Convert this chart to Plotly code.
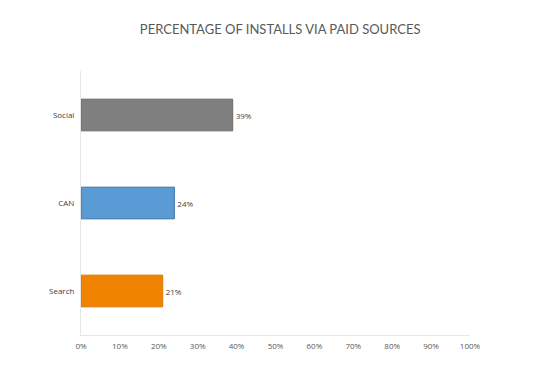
import plotly.graph_objects as go

categories = ["Search", "CAN", "Social"]
values = [21, 24, 39]
colors = ["#f08300", "#5b9bd5", "#7f7f7f"]
line_colors = ["#d97700", "#41719c", "#6a6a6a"]
x_ticks = list(range(0, 101, 10))
x_tick_labels = [f"{v}%" for v in x_ticks]

fig = go.Figure(go.Bar(
    y=categories, x=values, orientation="h",
    marker=dict(color=colors, line=dict(color=line_colors, width=1)),
    width=0.36,
    text=[f"{v}%" for v in values], textposition="outside",
    textfont=dict(size=8, color="#404040", family="Open Sans"),
    cliponaxis=False,
))

fig.update_layout(
    width=560, height=377,
    margin=dict(l=73, r=98, t=63, b=50),
    paper_bgcolor="white", plot_bgcolor="white",
    title=dict(text="PERCENTAGE OF INSTALLS VIA PAID SOURCES",
               x=0.486, xanchor="center", y=0.942, yanchor="middle",
               font=dict(size=13, color="#595959", family="Lato")),
    showlegend=False,
    font=dict(family="Open Sans", size=8, color="#595959"),
)
fig.update_xaxes(range=[0, 100], tickvals=x_ticks, ticktext=x_tick_labels,
                 showgrid=False, zeroline=False, showline=True, linecolor="#e6e6e6",
                 ticks="", ticklabelstandoff=3, tickfont=dict(size=8, color="#595959"))
fig.update_yaxes(showgrid=False, showline=True, linecolor="#e6e6e6", ticks="",
                 ticklabelstandoff=4, tickfont=dict(size=8, color="#404040"))

fig.write_html("out.html")
